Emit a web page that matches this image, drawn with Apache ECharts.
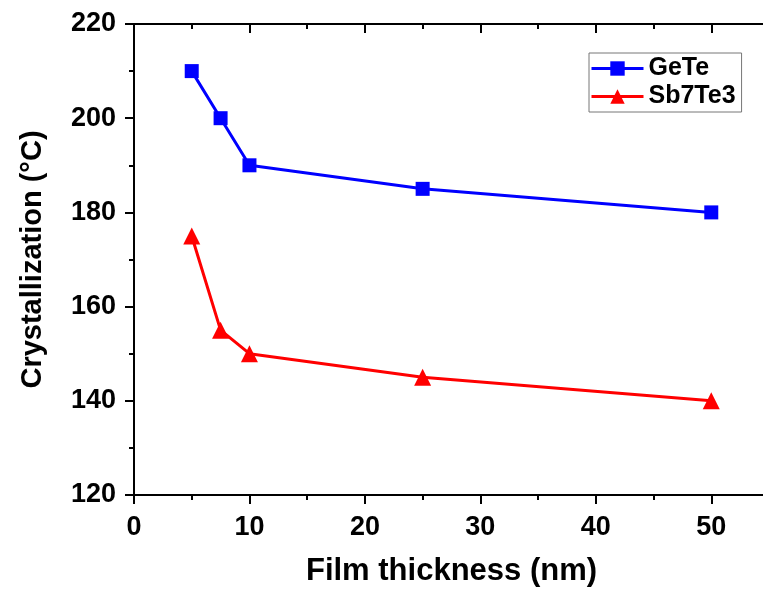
<!DOCTYPE html>
<html>
<head>
<meta charset="utf-8">
<script src="https://cdn.jsdelivr.net/npm/echarts@6/dist/echarts.min.js"></script>
<style>
  html, body { margin: 0; padding: 0; background: #fff; overflow: hidden; }
  #main { width: 772px; height: 596px; }
</style>
</head>
<body>
<div id="main"></div>
<script>
var thickness = [5, 7.5, 10, 25, 50];
var geTe = [210, 200, 190, 185, 180];
var sb7Te3 = [175, 155, 150, 145, 140];

function pairs(xs, ys) {
  var out = [];
  for (var i = 0; i < xs.length; i++) out.push([xs[i], ys[i]]);
  return out;
}

var myChart = echarts.init(document.getElementById('main'));
var font = "'Liberation Sans', Arial, sans-serif";

// top and right mirror axes, ticks pointing in
var mirror = {
  axisLine: { show: true, lineStyle: { color: '#000', width: 2 } },
  axisTick: { show: true, inside: true, length: 9, lineStyle: { color: '#000', width: 2 } },
  minorTick: { show: true, splitNumber: 2, length: 5, lineStyle: { color: '#000', width: 2 } },
  axisLabel: { show: false },
  splitLine: { show: false }
};

var option = {
  animation: false,
  grid: { left: 134, top: 24, width: 635, height: 471, containLabel: false, outerBoundsMode: 'none' },
  legend: {
    orient: 'vertical',
    left: 589,
    top: 53,
    width: 146,
    padding: [3, 6, 3, 1],
    itemGap: 3,
    itemWidth: 52,
    itemHeight: 18,
    borderColor: '#777',
    borderWidth: 1,
    lineStyle: { width: 3 },
    textStyle: { fontFamily: font, fontWeight: 'bold', fontSize: 25, color: '#000' },
    data: ['GeTe', 'Sb7Te3']
  },
  xAxis: [
    {
      type: 'value', min: 0, max: 55, interval: 10,
      name: 'Film thickness (nm)', nameLocation: 'middle', nameGap: 61,
      nameTextStyle: { fontFamily: font, fontWeight: 'bold', fontSize: 31, color: '#000' },
      axisLine: { show: true, lineStyle: { color: '#000', width: 2 } },
      axisTick: { show: true, inside: false, length: 9, lineStyle: { color: '#000', width: 2 } },
      minorTick: { show: true, splitNumber: 2, length: 5, lineStyle: { color: '#000', width: 2 } },
      axisLabel: { fontFamily: font, fontWeight: 'bold', fontSize: 27, color: '#000', margin: 19, showMaxLabel: false },
      splitLine: { show: false }
    },
    Object.assign({ type: 'value', min: 0, max: 55, interval: 10, position: 'top' }, mirror)
  ],
  yAxis: [
    {
      type: 'value', min: 120, max: 220, interval: 20,
      name: 'Crystallization (°C)', nameLocation: 'middle', nameGap: 87,
      nameTextStyle: { fontFamily: font, fontWeight: 'bold', fontSize: 29, color: '#000' },
      axisLine: { show: true, lineStyle: { color: '#000', width: 2 } },
      axisTick: { show: true, inside: false, length: 9, lineStyle: { color: '#000', width: 2 } },
      minorTick: { show: true, splitNumber: 2, length: 5, lineStyle: { color: '#000', width: 2 } },
      axisLabel: { fontFamily: font, fontWeight: 'bold', fontSize: 27, color: '#000', margin: 18 },
      splitLine: { show: false }
    },
    Object.assign({ type: 'value', min: 120, max: 220, interval: 20, position: 'right' }, mirror)
  ],
  series: [
    {
      name: 'GeTe',
      type: 'line',
      data: pairs(thickness, geTe),
      symbol: 'rect',
      symbolSize: 14,
      color: '#0000ff',
      lineStyle: { width: 3, color: '#0000ff' },
      itemStyle: { color: '#0000ff' }
    },
    {
      name: 'Sb7Te3',
      type: 'line',
      data: pairs(thickness, sb7Te3),
      symbol: 'triangle',
      symbolSize: 17,
      color: '#ff0000',
      lineStyle: { width: 3, color: '#ff0000' },
      itemStyle: { color: '#ff0000' }
    }
  ]
};
myChart.setOption(option);
</script>
</body>
</html>
